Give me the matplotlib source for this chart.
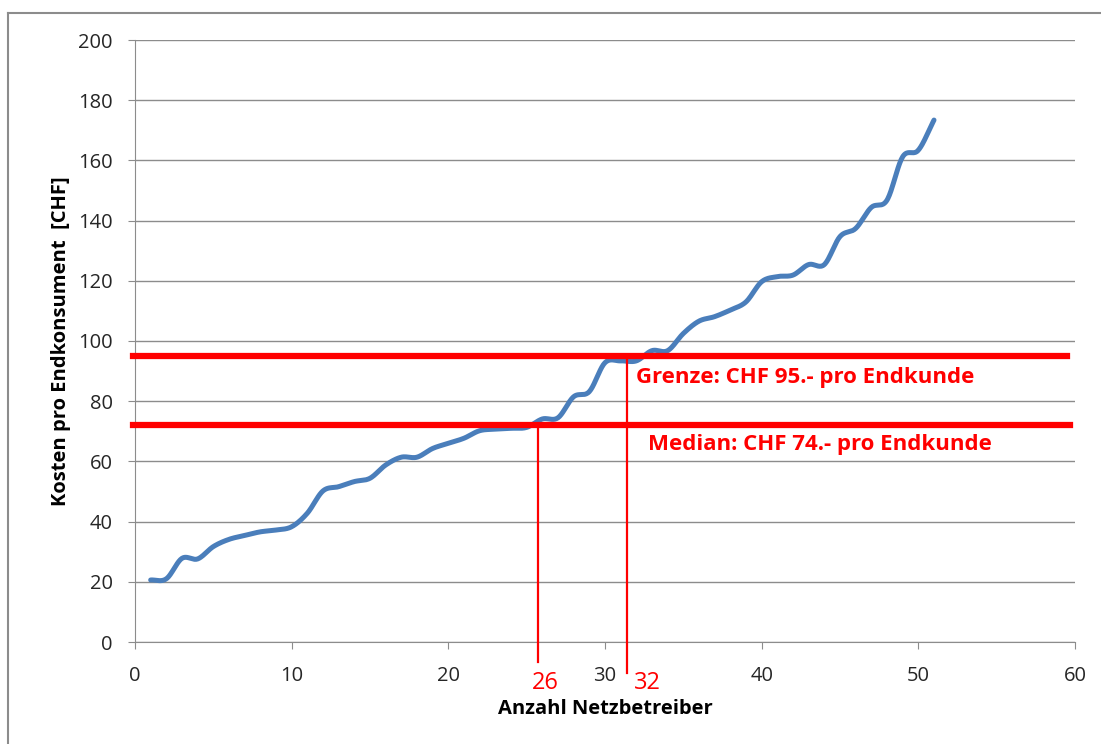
import numpy as np
import matplotlib
matplotlib.use("Agg")
import matplotlib.pyplot as plt
from matplotlib.lines import Line2D

# cost per end customer, operators sorted ascending
operators = list(range(1, 52))
costs = [20.6, 21.0, 27.8, 27.6, 31.7, 34.1, 35.4, 36.6, 37.2, 38.3,
         42.8, 50.2, 51.6, 53.3, 54.4, 58.8, 61.4, 61.4, 64.3, 66.0,
         67.7, 70.2, 70.7, 71.0, 71.3, 74.1, 74.5, 81.5, 83.2, 92.8,
         93.4, 93.4, 96.8, 96.8, 102.5, 106.6, 108.1, 110.3, 113.0, 119.7,
         121.4, 121.9, 125.4, 125.4, 134.7, 137.4, 144.4, 146.8, 161.2, 163.4,
         173.4]

limit_value = 95
median_value = 72
limit_x = 31.4
median_x = 25.75
limit_label = "Grenze: CHF 95.- pro Endkunde"
median_label = "Median: CHF 74.- pro Endkunde"
x_ticks = [0, 10, 20, 30, 40, 50, 60]
y_ticks = list(range(0, 201, 20))

FONT = ["Open Sans", "DejaVu Sans"]
plt.rcParams["font.family"] = FONT


def smooth(x, y, n=20):
    # Catmull-Rom spline through the points (Excel "smoothed line" look)
    x = np.asarray(x, float); y = np.asarray(y, float)
    px = np.concatenate([[2 * x[0] - x[1]], x, [2 * x[-1] - x[-2]]])
    py = np.concatenate([[2 * y[0] - y[1]], y, [2 * y[-1] - y[-2]]])
    t = np.linspace(0, 1, n, endpoint=False)
    xs, ys = [], []
    for i in range(1, len(px) - 2):
        for p, out in ((px, xs), (py, ys)):
            p0, p1, p2, p3 = p[i - 1], p[i], p[i + 1], p[i + 2]
            out.extend(0.5 * (2 * p1 + (-p0 + p2) * t + (2 * p0 - 5 * p1 + 4 * p2 - p3) * t ** 2
                              + (-p0 + 3 * p1 - 3 * p2 + p3) * t ** 3))
    xs.append(x[-1]); ys.append(y[-1])
    return np.array(xs), np.array(ys)


fig = plt.figure(figsize=(11.01, 7.44), dpi=100)
ax = fig.add_axes([135 / 1101, 102 / 744, 940 / 1101, 602 / 744])

# outer chart border (left and top visible)
fig.add_artist(Line2D([8 / 1101, 8 / 1101], [0, 1 - 13 / 744], color="#8c8c8c", lw=1.5))
fig.add_artist(Line2D([8 / 1101, 1], [1 - 13 / 744, 1 - 13 / 744], color="#8c8c8c", lw=1.5))

ax.set_xlim(0, 60)
ax.set_ylim(0, 200)
ax.set_xticks(x_ticks)
ax.set_yticks(y_ticks)
ax.grid(axis="y", color="#8c8c8c", lw=1)
ax.set_axisbelow(True)
for s in ("top", "right"):
    ax.spines[s].set_visible(False)
for s in ("left", "bottom"):
    ax.spines[s].set_color("#8c8c8c")
ax.tick_params(colors="#8c8c8c", labelcolor="#262626", labelsize=14.5, length=5)
ax.tick_params(axis="x", pad=12)
ax.tick_params(axis="y", pad=11)

sx, sy = smooth(operators, costs)
ax.plot(sx, sy, color="#4a7ebb", lw=3.6, solid_capstyle="round", zorder=3)

# threshold lines
ax.plot([-0.1, 59.5], [limit_value, limit_value], color="#ff0000", lw=4.5, clip_on=False, zorder=4)
ax.plot([-0.1, 59.7], [median_value, median_value], color="#ff0000", lw=4.5, clip_on=False, zorder=4)
ax.plot([median_x, median_x], [median_value, -6.6], color="#ff0000", lw=1.6, clip_on=False, zorder=4)
ax.plot([limit_x, limit_x], [limit_value, -10.3], color="#ff0000", lw=1.6, clip_on=False, zorder=4)

ax.text(32, 88, limit_label, color="#ff0000", fontsize=16, fontweight="bold", va="center", ha="left")
ax.text(32.75, 65.5, median_label, color="#ff0000", fontsize=16, fontweight="bold", va="center", ha="left")
ax.text(26.2, -13.7, "26", color="#ff0000", fontsize=17, ha="center", va="center")
ax.text(32.7, -13.7, "32", color="#ff0000", fontsize=17, ha="center", va="center")

ax.set_xlabel("Anzahl Netzbetreiber", fontsize=14.5, fontweight="bold", labelpad=10)
ax.set_ylabel("Kosten pro Endkonsument  [CHF]", fontsize=14.5, fontweight="bold", labelpad=5)

fig.savefig("out.png", dpi=100)
